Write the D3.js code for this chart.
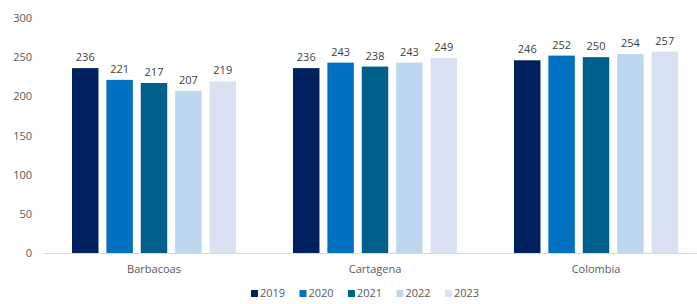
<!DOCTYPE html>
<html>
<head>
<meta charset="utf-8">
<script src="https://cdn.jsdelivr.net/npm/d3@7"></script>
<style>
  body { margin: 0; background: #fff; overflow: hidden; }
  text { font-family: "Open Sans", "Liberation Sans", sans-serif; }
</style>
</head>
<body>
<div id="chart"></div>
<script>
// Chart data
var categories = ["Barbacoas", "Cartagena", "Colombia"];
var years = ["2019", "2020", "2021", "2022", "2023"];
var values2019 = [236, 236, 246];
var values2020 = [221, 243, 252];
var values2021 = [217, 238, 250];
var values2022 = [207, 243, 254];
var values2023 = [219, 249, 257];
var yTicks = [0, 50, 100, 150, 200, 250, 300];

var seriesValues = [values2019, values2020, values2021, values2022, values2023];
var colors = ["#002060", "#0070c0", "#00608c", "#bdd7ee", "#d9e2f3"];

var svgWidth = 697, svgHeight = 304;
var margin = { top: 18, right: 0, bottom: 51, left: 42 };
var height = svgHeight - margin.top - margin.bottom;

var svg = d3.select("#chart").append("svg")
    .attr("width", svgWidth)
    .attr("height", svgHeight);

var chartGroup = svg.append("g")
    .attr("transform", `translate(${margin.left}, ${margin.top})`);

// Scales (category bands run slightly past the right edge, as in the source)
var x0 = d3.scaleBand().domain(categories).range([1.5, 664.5]).paddingInner(0).paddingOuter(0);
var groupWidth = 164;
var x1 = d3.scaleBand().domain(years).range([0, groupWidth]).paddingInner(0.23).paddingOuter(0);
var groupOffset = (x0.bandwidth() - groupWidth) / 2;
var y = d3.scaleLinear().domain([0, 300]).range([height, 0]);

// Y axis labels
var leftAxis = d3.axisLeft(y).tickValues(yTicks).tickSize(0).tickPadding(10);
chartGroup.append("g")
    .call(leftAxis)
    .call(g => g.select(".domain").remove())
    .selectAll("text")
    .style("font-size", "11px")
    .style("fill", "#595959");

// Bars
var rows = [];
categories.forEach(function(cat, i) {
    years.forEach(function(yr, j) {
        rows.push({ cat: cat, year: yr, value: seriesValues[j][i], color: colors[j] });
    });
});

chartGroup.selectAll("rect.bar")
    .data(rows)
    .enter()
    .append("rect")
    .attr("class", "bar")
    .attr("x", d => x0(d.cat) + groupOffset + x1(d.year))
    .attr("y", d => y(d.value))
    .attr("width", x1.bandwidth())
    .attr("height", d => height - y(d.value))
    .attr("fill", d => d.color);

// Value labels
chartGroup.selectAll("text.val")
    .data(rows)
    .enter()
    .append("text")
    .attr("class", "val")
    .attr("x", d => x0(d.cat) + groupOffset + x1(d.year) + x1.bandwidth() / 2)
    .attr("y", d => y(d.value) - 7)
    .attr("text-anchor", "middle")
    .style("font-size", "11px")
    .style("fill", "#404040")
    .text(d => d.value);

// Baseline + category axis
var bottomAxis = d3.axisBottom(x0).tickSize(0).tickPadding(12);
chartGroup.append("g")
    .attr("transform", `translate(0, ${height})`)
    .call(bottomAxis)
    .call(g => g.select(".domain").attr("stroke", "#d9d9d9"))
    .selectAll("text")
    .style("font-size", "11px")
    .style("fill", "#595959");

// Legend
var legend = svg.append("g").attr("transform", "translate(251, 297)");
var legendItems = legend.selectAll("g")
    .data(years)
    .enter()
    .append("g")
    .attr("transform", (d, i) => `translate(${i * 48.5}, 0)`);

legendItems.append("rect")
    .attr("x", 0)
    .attr("y", -7)
    .attr("width", 7)
    .attr("height", 7)
    .attr("fill", (d, i) => colors[i]);

legendItems.append("text")
    .attr("x", 9)
    .attr("y", 0)
    .style("font-size", "11px")
    .style("fill", "#595959")
    .text(d => d);
</script>
</body>
</html>
